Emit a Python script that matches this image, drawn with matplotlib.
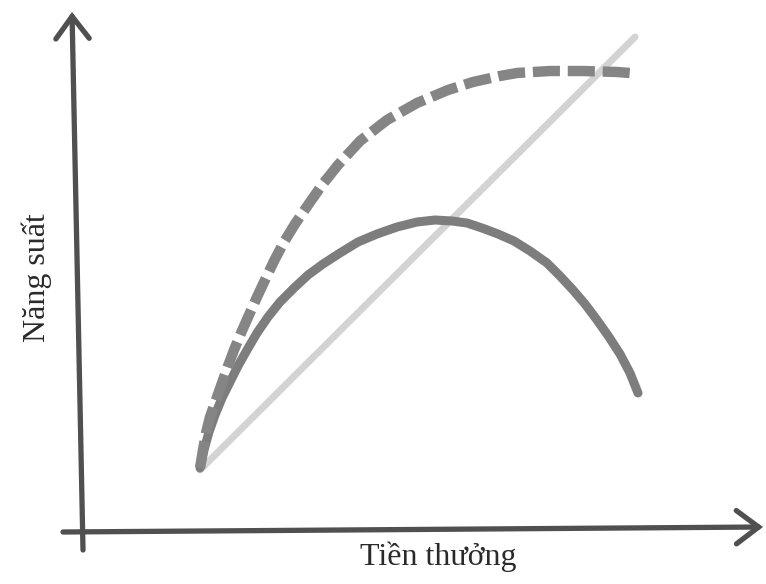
import matplotlib
import matplotlib.pyplot as plt

matplotlib.use("agg")

# values, origin at the corner of the two axes
dashed_x = [115, 118, 121, 125, 131, 137, 143, 149, 156, 164, 172, 180, 189, 199, 210,
            223, 237, 253, 275, 302, 332, 363, 388, 415, 432, 465, 498, 532, 545]
dashed_y = [62, 80, 97, 113, 130, 147, 164, 180, 197, 215, 233, 250, 269, 288, 306,
            325, 345, 365, 389, 410, 427, 440, 448, 454, 457, 459, 459, 458, 457]

solid_x = [115, 119, 124, 130, 137, 145, 153, 162, 172, 183, 195, 209, 223, 238, 255, 273,
           292, 312, 332, 350, 367, 382, 397, 413, 429, 445, 462, 475, 488, 500, 512, 524,
           535, 545, 553]
solid_y = [62, 80, 98, 115, 132, 148, 164, 180, 197, 213, 228, 242, 255, 266, 277, 288,
           296, 303, 308, 310, 309, 307, 302, 296, 289, 279, 267, 254, 240, 226, 210, 193,
           176, 157, 137]

light_x = [115, 550]
light_y = [60, 493]

x_label = "Tiền thưởng"
y_label = "Năng suất"


def __main():
    fig = plt.figure(figsize=(7.66, 5.84), dpi=100)
    ax = fig.add_axes([0, 0, 1, 1])
    ax.set_xlim(-85, 681)
    ax.set_ylim(-54, 530)
    ax.axis("off")

    axis_color = "#505050"
    arrow = dict(arrowstyle="->,head_length=1.6,head_width=1.2", color=axis_color,
                 lw=3.8, mutation_scale=10, shrinkA=0, shrinkB=0, capstyle="round",
                 joinstyle="miter")
    ax.annotate("", xy=(-13, 518), xytext=(-2, -20), arrowprops=arrow)
    ax.annotate("", xy=(678, 3), xytext=(-22, -2), arrowprops=arrow)

    ax.plot(light_x, light_y, color="#d3d3d3", lw=5, solid_capstyle="round", zorder=2)
    ax.plot(solid_x, solid_y, color="#7d7d7d", lw=6.5, solid_capstyle="round",
            solid_joinstyle="round", zorder=3)
    ax.plot(dashed_x, dashed_y, color="#858585", lw=7.5, linestyle=(0, (2.6, 0.75)),
            dash_capstyle="butt", dash_joinstyle="round", zorder=4)

    ax.text(353, -27, x_label, ha="center", va="center", fontsize=23,
            family="Liberation Serif", color="#2a2a2a")
    ax.text(-48, 252, y_label, ha="center", va="center", rotation=90, fontsize=23,
            family="Liberation Serif", color="#2a2a2a")

    fig.savefig("out.png", dpi=100, facecolor="white")


if __name__ == "__main__":
    __main()
